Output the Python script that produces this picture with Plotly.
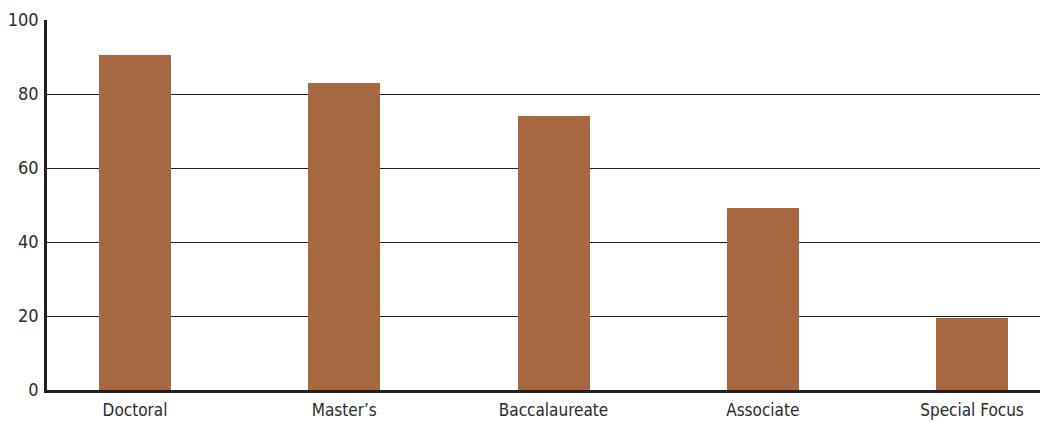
import plotly.graph_objects as go

categories = ["Doctoral", "Master\u2019s", "Baccalaureate", "Associate", "Special Focus"]
values = [90.5, 83.0, 74.1, 49.2, 19.5]
y_ticks = [0, 20, 40, 60, 80, 100]

fig = go.Figure(go.Bar(
    x=list(range(len(categories))),
    y=values,
    width=0.344,
    marker=dict(color="#A66741", line=dict(width=0)),
))

font_family = "DejaVu Sans Condensed, Liberation Sans Narrow, Roboto, sans-serif"
fig.update_layout(
    width=1040, height=414,
    margin=dict(l=39, r=0, t=12, b=32, autoexpand=False),
    paper_bgcolor="white", plot_bgcolor="white",
    font=dict(family=font_family, size=17, color="#2b2b2b"),
    showlegend=False,
    bargap=0,
)
fig.update_xaxes(
    range=[-0.4205, 4.363],
    tickmode="array",
    tickvals=list(range(len(categories))),
    ticktext=categories,
    showgrid=False,
    showline=True, linecolor="#231f20", linewidth=2.5,
    ticks="", zeroline=False, ticklabelstandoff=3,
    automargin=False, tickfont=dict(size=17),
)
fig.update_yaxes(
    range=[0, 100],
    tickmode="array", tickvals=y_ticks,
    showgrid=True, gridcolor="#231f20", gridwidth=1.2,
    showline=True, linecolor="#231f20", linewidth=2.5,
    ticks="", ticklabelstandoff=2, zeroline=False,
    automargin=False, tickfont=dict(size=18),
)

fig.write_html("out.html")
